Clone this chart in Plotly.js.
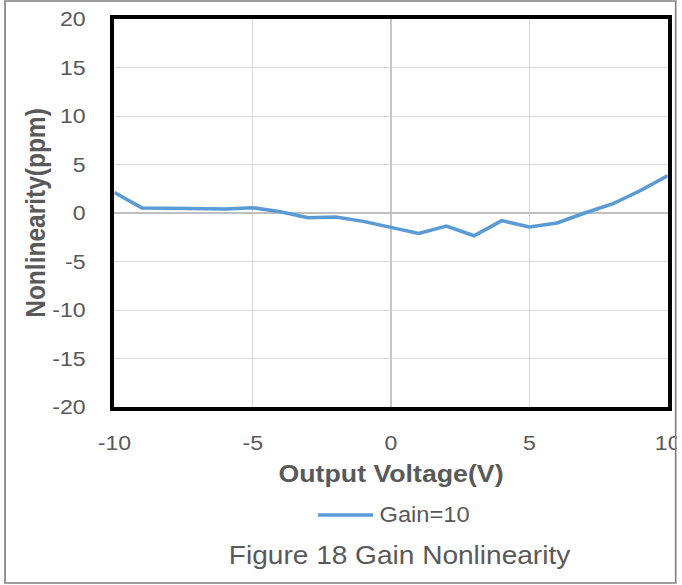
<!DOCTYPE html>
<html>
<head>
<meta charset="utf-8">
<script src="https://cdn.plot.ly/plotly-3.0.1.min.js"></script>
<style>
  html, body { margin: 0; padding: 0; background: #fff; overflow: hidden; }
  #wrap { width: 682px; height: 585px; overflow: hidden; position: relative; }
  #chart { transform-origin: 0 0; }
</style>
</head>
<body>
<div id="wrap"><div id="chart"></div></div>
<script>
// ---- data ----
const outputVoltage = [-10, -9, -8, -7, -6, -5, -4, -3, -2, -1, 0, 1, 2, 3, 4, 5, 6, 7, 8, 9, 10];
const nonlinearityPpm = [2.12, 0.52, 0.5, 0.41, 0.4, 0.55, 0.13, -0.48, -0.41, -0.86, -1.45, -2.1, -1.34, -2.34, -0.79, -1.45, -1.03, 0.0, 0.93, 2.3, 3.85];
const seriesName = 'Gain=10';
const xTicks = [-10, -5, 0, 5, 10];
const yTicks = [-20, -15, -10, -5, 0, 5, 10, 15, 20];
const xTitle = 'Output Voltage(V)';
const yTitle = 'Nonlinearity(ppm)';
const caption = 'Figure 18 Gain Nonlinearity';

// ---- geometry (reference pixels) ----
const S = 1.1;                 // horizontal stretch of the reference
const W = 682 / S, H = 585;
const refL = 114, refR = 668, refT = 19, refB = 407;
const L = refL / S, R = W - refR / S;
const PW = W - L - R, PH = refB - refT;
const px = rx => (rx / S - L) / PW;
const py = ry => (refB - ry) / PH;

const chart = document.getElementById('chart');
chart.style.transform = 'scaleX(' + S + ')';

const grey = '#595959';
const font = 'Liberation Sans, Arial, sans-serif';

const trace = {
  x: outputVoltage, y: nonlinearityPpm, type: 'scatter', mode: 'lines',
  name: seriesName, line: { color: '#5B9BD5', width: 3.5 }, showlegend: false
};

const layout = {
  width: W, height: H,
  margin: { l: L, r: R, t: refT, b: H - refB, pad: 0 },
  paper_bgcolor: '#ffffff', plot_bgcolor: '#ffffff',
  font: { family: font, color: grey, size: 20 },
  showlegend: false,
  xaxis: {
    range: [-10, 10], tickvals: xTicks, ticktext: xTicks.map(String),
    showgrid: true, gridcolor: '#d9d9d9', gridwidth: 1,
    zeroline: true, zerolinecolor: '#c6c6c6', zerolinewidth: 1.5,
    showline: true, linecolor: '#000000', linewidth: 4, mirror: true,
    ticks: '', ticklabelstandoff: 14,
    tickfont: { family: font, color: grey, size: 21 },
    title: { text: '<b>' + xTitle + '</b>', font: { family: font, color: grey, size: 24.3 }, standoff: 13 },
    fixedrange: true
  },
  yaxis: {
    range: [-20, 20], tickvals: yTicks, ticktext: yTicks.map(String),
    showgrid: true, gridcolor: '#d9d9d9', gridwidth: 1,
    zeroline: true, zerolinecolor: '#bfbfbf', zerolinewidth: 1.5,
    showline: true, linecolor: '#000000', linewidth: 4, mirror: true,
    ticks: '', ticklabelstandoff: 18,
    tickfont: { family: font, color: grey, size: 21 },
    title: { text: '<b>' + yTitle + '</b>', font: { family: font, color: grey, size: 24.5 }, standoff: 0 },
    fixedrange: true
  },
  shapes: [
    // legend sample line
    { type: 'line', xref: 'paper', yref: 'paper', x0: px(318), x1: px(373), y0: py(515), y1: py(515),
      line: { color: '#5B9BD5', width: 3.5 }, layer: 'above' },
    // white area beyond the outer frame (clips the last tick label)
    { type: 'rect', xref: 'paper', yref: 'paper', x0: px(677), x1: px(700), y0: py(600), y1: py(-10),
      fillcolor: '#ffffff', line: { width: 0 }, layer: 'above' },
    // outer frame
    { type: 'rect', xref: 'paper', yref: 'paper', x0: px(4.5), x1: px(676), y0: py(583), y1: py(1),
      fillcolor: 'rgba(0,0,0,0)', line: { color: '#7f7f7f', width: 1.5 }, layer: 'above' }
  ],
  annotations: [
    { xref: 'paper', yref: 'paper', x: px(377), y: py(515), xanchor: 'left', yanchor: 'middle',
      text: seriesName, showarrow: false, font: { family: font, color: grey, size: 21.5 } },
    { xref: 'paper', yref: 'paper', x: px(400), y: py(555), xanchor: 'center', yanchor: 'middle',
      text: caption, showarrow: false, font: { family: font, color: grey, size: 25.5 } }
  ]
};

Plotly.newPlot(chart, [trace], layout, { displayModeBar: false, staticPlot: true });
</script>
</body>
</html>
